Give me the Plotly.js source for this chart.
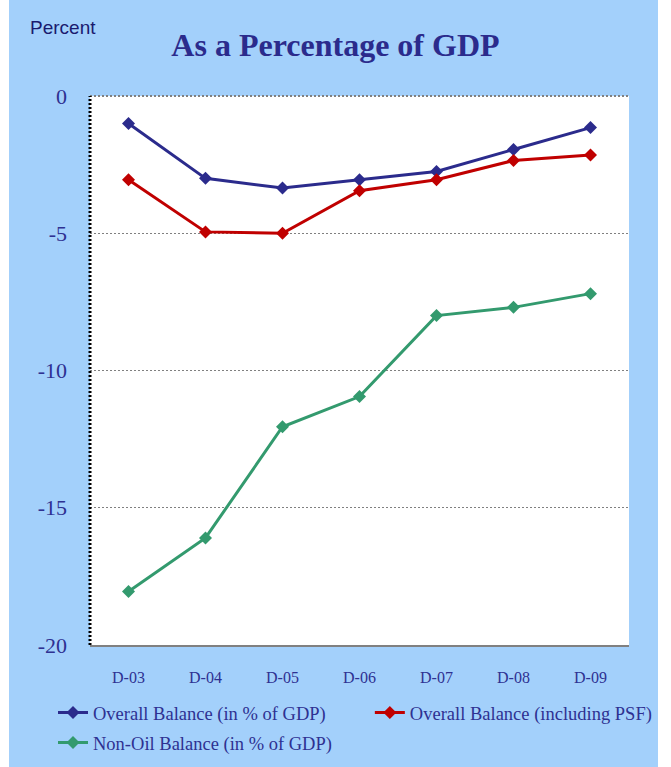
<!DOCTYPE html>
<html>
<head>
<meta charset="utf-8">
<script src="https://cdn.plot.ly/plotly-3.0.1.min.js"></script>
<style>
html,body{margin:0;padding:0;background:#ffffff;}
#chart{position:absolute;left:9px;top:0;width:649px;height:767px;}
</style>
</head>
<body>
<div id="chart"></div>
<script>
const categories = ["D-03","D-04","D-05","D-06","D-07","D-08","D-09"];
const overallBalance = [-1.0, -3.0, -3.35, -3.05, -2.75, -1.95, -1.15];
const overallBalancePSF = [-3.05, -4.95, -5.0, -3.45, -3.05, -2.35, -2.15];
const nonOilBalance = [-18.05, -16.1, -12.05, -10.95, -8.0, -7.7, -7.2];
const seriesNames = ["Overall Balance (in % of GDP)", "Overall Balance (including PSF)", "Non-Oil Balance (in % of GDP)"];
const yTicks = [0, -5, -10, -15, -20];

const SERIF = "Liberation Serif, Times New Roman, serif";
const colors = ["#2B2B8C", "#C00000", "#339A6E"];
const legends = ["legend", "legend2", "legend3"];
const data = [overallBalance, overallBalancePSF, nonOilBalance].map((vals, i) => ({
  x: categories,
  y: vals,
  name: seriesNames[i],
  type: "scatter",
  mode: "lines+markers",
  legend: legends[i],
  line: {color: colors[i], width: 3},
  marker: {symbol: "diamond", size: 10, color: colors[i]}
}));

const legendFont = {family: SERIF, size: 18.5, color: "#2E3192"};
function mkLegend(x, y) {
  return {orientation: "h", xref: "container", yref: "container",
          x: x, xanchor: "left", y: y, yanchor: "top",
          bgcolor: "rgba(0,0,0,0)", font: legendFont, itemclick: false};
}
const layout = {
  width: 649,
  height: 767,
  paper_bgcolor: "#A3D0FB",
  plot_bgcolor: "#FFFFFF",
  margin: {l: 81, r: 29, t: 96, b: 122},
  title: {
    text: "As a Percentage of GDP",
    font: {family: "Liberation Serif", size: 32, weight: 700, color: "#2B2B8C"},
    x: 0.503, xref: "container", xanchor: "center",
    y: 0.941, yref: "container", yanchor: "middle"
  },
  font: {family: SERIF, color: "#2E3192"},
  xaxis: {
    type: "category",
    range: [-0.5, 6.5],
    showgrid: false,
    showline: true,
    linecolor: "#808080",
    linewidth: 2,
    ticks: "",
    ticklabelstandoff: 17,
    tickfont: {family: SERIF, size: 16, color: "#2E3192"},
    zeroline: false,
    fixedrange: true
  },
  yaxis: {
    range: [-20, 0],
    tickvals: yTicks,
    ticktext: yTicks.map(String),
    showgrid: true,
    gridcolor: "#808080",
    griddash: "2px,2px",
    gridwidth: 1,
    showline: false,
    zeroline: false,
    ticks: "",
    ticklabelstandoff: 22,
    tickfont: {family: SERIF, size: 22, color: "#2E3192"},
    fixedrange: true
  },
  shapes: [
    {type: "line", xref: "paper", yref: "paper", x0: 0, x1: 1, y0: 1, y1: 1,
     line: {color: "#808080", width: 2, dash: "2px,2px"}},
    {type: "line", xref: "paper", yref: "paper", x0: 0, x1: 0, y0: 0, y1: 1,
     line: {color: "#000000", width: 3, dash: "2px,2px"}}
  ],
  annotations: [
    {text: "Percent", xref: "paper", yref: "paper", x: -0.115, y: 1.124,
     xanchor: "left", yanchor: "middle", showarrow: false,
     font: {family: "Liberation Sans, Arial, sans-serif", size: 19, color: "#1A1A6E"}}
  ],
  showlegend: true,
  legend: mkLegend(0.0678, 0.0952),
  legend2: mkLegend(0.556, 0.0952),
  legend3: mkLegend(0.0678, 0.0561)
};

Plotly.newPlot("chart", data, layout, {displayModeBar: false, staticPlot: true});
</script>
</body>
</html>
